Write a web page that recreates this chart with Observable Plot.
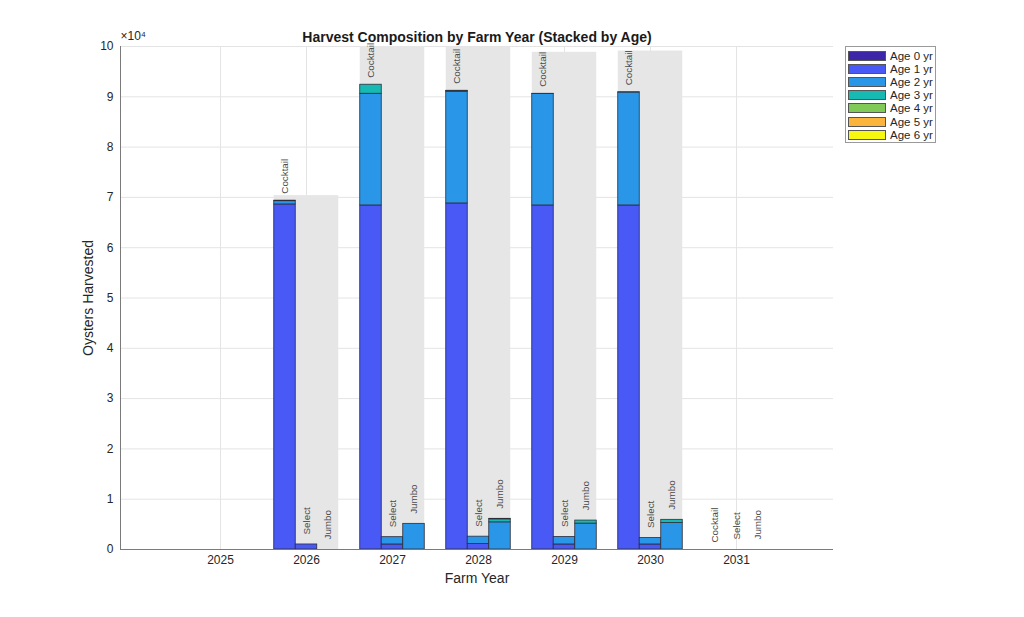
<!DOCTYPE html>
<html><head><meta charset="utf-8">
<script src="https://cdn.jsdelivr.net/npm/d3@7"></script>
<script src="https://cdn.jsdelivr.net/npm/@observablehq/plot@0.6"></script>
<style>
body{margin:0;background:#fff;font-family:"Liberation Sans",Arial,sans-serif}
#wrap{position:relative;width:1024px;height:617px}
#legend{position:absolute;left:845px;top:46px;width:91px;height:97px;border:1px solid #9a9a9a;background:#fff;box-sizing:border-box;padding-top:2px}
.row{display:flex;align-items:center;height:13.2px}
.sw{width:38px;height:10px;margin-left:2px;margin-right:4px;border:1px solid #555;box-sizing:border-box}
.lab{font-size:11.5px;color:#262626;white-space:nowrap}
</style></head><body><div id="wrap"></div>
<script>
// ---- data ----
const years = [2025, 2026, 2027, 2028, 2029, 2030, 2031];
const labeledYears = [2026, 2027, 2028, 2029, 2030, 2031];
const sizes = ["Cocktail", "Select", "Jumbo"];
const ages = ["Age 0 yr", "Age 1 yr", "Age 2 yr", "Age 3 yr", "Age 4 yr", "Age 5 yr", "Age 6 yr"];
// rows = ages 0..6, columns = years
const cocktail = [
  [0, 0, 0, 0, 0, 0, 0],
  [0, 68600, 68400, 68800, 68400, 68400, 0],
  [0, 650, 22200, 22200, 22150, 22450, 0],
  [0, 100, 1800, 150, 50, 50, 0],
  [0, 0, 0, 50, 0, 0, 0],
  [0, 0, 0, 0, 0, 0, 0],
  [0, 0, 0, 0, 0, 0, 0]
];
const select = [
  [0, 0, 0, 0, 0, 0, 0],
  [0, 1000, 1000, 1100, 1000, 1000, 0],
  [0, 0, 1450, 1450, 1500, 1300, 0],
  [0, 0, 0, 0, 0, 0, 0],
  [0, 0, 0, 0, 0, 0, 0],
  [0, 0, 0, 0, 0, 0, 0],
  [0, 0, 0, 0, 0, 0, 0]
];
const jumbo = [
  [0, 0, 0, 0, 0, 0, 0],
  [0, 0, 0, 0, 0, 0, 0],
  [0, 0, 5100, 5400, 5150, 5250, 0],
  [0, 0, 0, 600, 600, 650, 0],
  [0, 0, 0, 100, 0, 0, 0],
  [0, 0, 0, 0, 0, 0, 0],
  [0, 0, 0, 0, 0, 0, 0]
];
const yTicks = [0, 10000, 20000, 30000, 40000, 50000, 60000, 70000, 80000, 90000, 100000];

// ---- styles / layout ----
const ageColors = ["#3e26a8", "#4859f5", "#2a96e7", "#17bab2", "#80cb58", "#fbb53c", "#f7f80f"];
const sizeOffset = {Cocktail: -0.25, Select: 0, Jumbo: 0.25};
const labelGap = {Cocktail: -7, Select: -10, Jumbo: -10};
const barHalf = 0.125;
const font = "Liberation Sans, Arial, sans-serif";
const ink = "#262626";

const bySize = {Cocktail: cocktail, Select: select, Jumbo: jumbo};
const segs = [], labels = [], totals = [];
years.forEach((yr, j) => {
  let tot = 0;
  sizes.forEach(s => {
    let base = 0;
    const cx = yr + sizeOffset[s];
    ages.forEach((a, i) => {
      const v = bySize[s][i][j];
      if (v > 0) segs.push({x1: cx - barHalf, x2: cx + barHalf, y1: base, y2: base + v, age: a});
      base += v;
    });
    if (labeledYears.includes(yr)) labels.push({x: cx, y: base, text: s});
    tot += base;
  });
  if (tot > 0) totals.push({x1: yr - 0.375, x2: yr + 0.375, y: tot});
});

const xDomain = [2025 - 100 / 86, 2025 + 613 / 86];

const labelMarks = sizes.map(s => Plot.text(labels.filter(d => d.text === s), {
  x: "x", y: "y", text: "text", rotate: -90, textAnchor: "start", lineAnchor: "middle",
  dy: labelGap[s], fontSize: 9.8, fill: "#4a4a4a"
}));

const chart = Plot.plot({
  width: 1024,
  height: 617,
  marginLeft: 120,
  marginRight: 191,
  marginTop: 46,
  marginBottom: 68,
  style: {fontFamily: font, background: "#fff", overflow: "visible"},
  x: {domain: xDomain, axis: null},
  y: {domain: [0, 100000], axis: null},
  color: {domain: ages, range: ageColors},
  marks: [
    Plot.gridY(yTicks, {stroke: "#e4e4e4", strokeOpacity: 1}),
    Plot.gridX(years, {stroke: "#e4e4e4", strokeOpacity: 1}),
    Plot.rect(totals, {x1: "x1", x2: "x2", y1: 0, y2: "y", fill: "#e6e6e6"}),
    Plot.rect(segs, {x1: "x1", x2: "x2", y1: "y1", y2: "y2", fill: "age", stroke: "#2d2d3a", strokeWidth: 0.8}),
    ...labelMarks,
    Plot.ruleX([xDomain[0]], {stroke: "#7a7a7a"}),
    Plot.ruleY([0], {stroke: "#7a7a7a"}),
    Plot.axisX(years, {tickSize: 0, tickPadding: 6, tickFormat: d => String(d), fontSize: 12, fill: ink, label: null}),
    Plot.axisY(yTicks, {tickSize: 0, tickPadding: 7, tickFormat: d => String(d / 10000), fontSize: 12, fill: ink, label: null}),
    Plot.text(["Harvest Composition by Farm Year (Stacked by Age)"], {frameAnchor: "top", lineAnchor: "middle", dy: -9, fontSize: 14, fontWeight: "bold", fill: "#1a1a1a"}),
    Plot.text(["×10⁴"], {frameAnchor: "top-left", textAnchor: "start", lineAnchor: "middle", dy: -10, fontSize: 12, fill: ink}),
    Plot.text(["Oysters Harvested"], {frameAnchor: "left", textAnchor: "middle", lineAnchor: "middle", rotate: -90, dx: -32, fontSize: 14, fill: ink}),
    Plot.text(["Farm Year"], {frameAnchor: "bottom", lineAnchor: "middle", dy: 29, fontSize: 14, fill: ink})
  ]
});

const wrap = document.getElementById("wrap");
wrap.appendChild(chart);
const leg = document.createElement("div");
leg.id = "legend";
ages.forEach((a, i) => {
  const r = document.createElement("div");
  r.className = "row";
  r.innerHTML = `<div class="sw" style="background:${ageColors[i]}"></div><div class="lab">${a}</div>`;
  leg.appendChild(r);
});
wrap.appendChild(leg);
</script></body></html>
